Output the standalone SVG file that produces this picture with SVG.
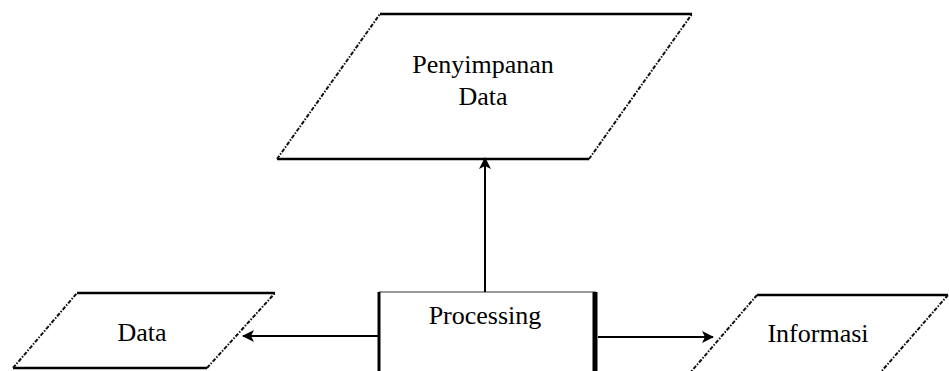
<svg xmlns="http://www.w3.org/2000/svg" width="949" height="371" viewBox="0 0 949 371">
<style>
.solid{stroke:#000;stroke-width:2.5;fill:none}
.slant{stroke:#111;stroke-width:2;fill:none;stroke-dasharray:4 1.5 1.5 1.5}
text{font-family:'Liberation Serif','Times New Roman','DejaVu Serif',serif;font-size:26px;fill:#000;text-anchor:middle}
.conn{stroke:#000;stroke-width:2;fill:none}
</style>
<defs>
<marker id="ah" viewBox="0 0 12 12" refX="11" refY="6" markerWidth="12" markerHeight="12" markerUnits="userSpaceOnUse" orient="auto">
<path d="M0,0 L12,6 L0,12 L3,6 z" fill="#000"/>
</marker>
</defs>
<rect width="949" height="371" fill="#fff"/>
<g id="penyimpanan">
<path d="M380,14 L692,14 M277,159 L589,159" class="solid"/>
<path d="M277,159 L380,14 M589,159 L692,14" class="slant"/>
<text font-family="Liberation Serif, serif" x="483" y="73">Penyimpanan</text>
<text font-family="Liberation Serif, serif" x="483" y="105">Data</text>
</g>
<g id="data">
<path d="M77,293 L275,293 M13,368 L207,368" class="solid"/>
<path d="M13,368 L77,293 M207,368 L275,293" class="slant"/>
<text font-family="Liberation Serif, serif" x="142" y="341">Data</text>
</g>
<g id="processing">
<path d="M379,292 L596,292" stroke="#777" stroke-width="1.5" fill="none"/>
<path d="M379,292 L379,375" stroke="#000" stroke-width="3" fill="none"/>
<path d="M595,292 L595,375" stroke="#000" stroke-width="5" fill="none"/>
<text font-family="Liberation Serif, serif" x="485" y="324">Processing</text>
</g>
<g id="informasi">
<path d="M757,295 L948,295" class="solid"/>
<path d="M757,295 L690,373 M948,295 L880,373" class="slant"/>
<text font-family="Liberation Serif, serif" x="818" y="342">Informasi</text>
</g>
<g id="connectors">
<line x1="485" y1="292" x2="485" y2="158" class="conn" marker-end="url(#ah)"/>
<line x1="378" y1="336" x2="243" y2="336" class="conn" marker-end="url(#ah)"/>
<line x1="598" y1="337" x2="713" y2="337" class="conn" marker-end="url(#ah)"/>
</g>
</svg>
